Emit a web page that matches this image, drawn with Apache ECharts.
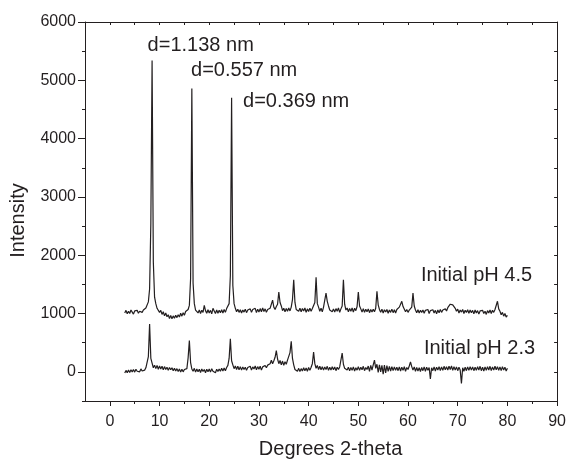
<!DOCTYPE html>
<html><head><meta charset="utf-8">
<script src="https://cdn.jsdelivr.net/npm/echarts@6/dist/echarts.min.js"></script>
<style>html,body{margin:0;padding:0;background:#fff}#c{width:569px;height:464px}</style>
</head><body><div id="c"></div>
<script>
// 2-theta grid: 3.00 .. 80.00 deg, 0.25 deg step
const twoThetaStart = 3;
const twoThetaStep = 0.25;
// Initial pH 4.5 pattern (raw intensity, plotted with +1000 offset)
const offsetPH45 = 1000;
const intensityPH45 = [
 10,55,-5,40,0,60,25,-10,45,15,55,5,40,70,20,60,35,95,110,200,
 420,1550,4340,880,280,170,90,60,20,55,-15,30,-40,10,-55,-20,-85,-35,-90,-40,
 -80,-30,-70,-20,-60,5,-45,15,-30,35,10,70,140,600,3860,520,170,60,90,10,
 60,0,55,20,140,50,5,65,10,55,-5,90,45,0,60,5,55,15,65,10,
 70,20,85,100,170,650,3700,480,170,90,30,75,20,65,10,60,25,75,15,60,
 30,80,20,70,40,90,15,75,25,85,30,95,35,80,20,70,45,90,110,230,
 110,70,120,160,370,190,130,50,90,30,85,40,95,45,110,240,580,190,70,100,
 40,90,30,85,45,95,20,80,35,90,40,85,100,190,620,170,110,40,90,30,
 110,230,350,210,130,60,90,30,80,25,85,40,95,20,80,130,580,160,60,95,
 30,85,40,95,25,90,50,120,370,130,80,25,85,20,75,30,80,15,70,25,
 75,30,90,380,150,70,20,75,10,65,25,70,5,60,20,75,15,65,10,70,
 90,110,160,210,120,90,30,70,20,60,35,110,350,130,60,15,65,10,55,20,
 60,5,55,25,70,0,50,20,65,10,55,-5,60,15,70,20,60,35,80,45,
 100,120,160,185,150,130,90,40,75,10,60,25,70,0,55,20,65,5,60,15,
 55,-5,60,10,50,-10,45,15,55,0,40,-15,50,10,60,0,55,20,70,100,
 210,80,40,-20,20,-45,0,-60,-30
];
// Initial pH 2.3 pattern (raw intensity)
const intensityPH23 = [
 -20,25,-15,30,-10,35,0,40,-5,45,10,35,0,50,15,45,30,70,100,260,
 820,230,150,70,115,55,110,45,100,50,95,35,90,40,80,25,75,35,70,20,
 60,15,55,5,50,-5,45,0,40,10,55,240,535,160,50,10,60,-5,50,0,
 45,-10,50,5,40,-15,45,0,50,-5,55,10,40,-15,45,5,50,10,60,15,
 65,20,75,110,230,565,190,120,55,100,40,95,35,90,30,85,40,80,25,75,
 45,95,30,85,50,100,35,90,45,95,30,85,60,110,70,115,90,140,200,140,
 190,250,365,220,140,195,120,185,110,175,130,200,230,330,525,230,120,40,70,10,
 60,5,55,15,70,20,65,10,75,25,80,140,340,140,60,110,40,95,35,90,
 30,85,40,95,25,80,30,90,35,85,20,80,40,85,110,320,130,60,90,30,
 80,20,75,25,85,15,70,30,90,25,80,35,95,20,75,40,100,10,110,30,
 120,200,60,130,-10,120,0,110,-40,115,-20,105,10,95,15,90,20,85,25,80,
 20,85,15,80,25,90,10,75,40,100,170,90,30,85,10,75,15,70,5,75,
 20,85,10,80,25,75,-120,70,20,85,15,80,30,90,20,85,25,95,35,90,
 30,95,40,100,25,90,30,85,20,80,30,-200,70,10,80,20,85,25,90,30,
 85,20,80,25,90,30,95,20,80,15,85,25,90,30,95,20,85,30,95,35,
 90,25,85,20,90,30,80,15,60
];
const xTicks = [0,10,20,30,40,50,60,70,80,90];
const xMinorTicks = [5,15,25,35,45,55,65,75,85];
const xTopTicks = [0,5,10,15,20,25,30,35,40,45,50,55,60,65,70,75,80,85];
const yTicks = [0,1000,2000,3000,4000,5000,6000];
const yMinorTicks = [-500,500,1500,2500,3500,4500,5500];
const yRightTicks = [0,500,1000,1500,2000,2500,3000,3500,4000,4500,5000,5500];
const peakLabels = ['d=1.138 nm','d=0.557 nm','d=0.369 nm'];
const seriesLabels = ['Initial pH 4.5','Initial pH 2.3'];
const xTitle = 'Degrees 2-theta';
const yTitle = 'Intensity';

const INK = '#231f20';
const FONT = '"Liberation Sans", Arial, Helvetica, sans-serif';

function toPoints(arr, offset) {
  return arr.map((v, i) => [twoThetaStart + i * twoThetaStep, v + offset]);
}

const chart = echarts.init(document.getElementById('c'), null, {renderer: 'canvas'});
const lineAxis = {show: true, onZero: false, lineStyle: {color: INK, width: 1}};
const noLine = {show: false, onZero: false};
const plain = v => String(v);
chart.setOption({
  animation: false,
  backgroundColor: '#fff',
  grid: {left: 85, right: 10, top: 22, bottom: 58, containLabel: false},
  xAxis: [
    {type: 'value', min: -5, max: 90, position: 'bottom',
     axisLine: lineAxis,
     axisTick: {show: true, customValues: xTicks, length: 5, lineStyle: {color: INK}},
     axisLabel: {customValues: xTicks, formatter: plain, color: INK, fontSize: 16, fontFamily: FONT, margin: 13},
     splitLine: {show: false},
     name: xTitle, nameLocation: 'middle', nameGap: 38,
     nameTextStyle: {color: INK, fontSize: 20, fontFamily: FONT, padding: [0, 0, 0, 19]}},
    {type: 'value', min: -5, max: 90, position: 'bottom',
     axisLine: noLine,
     axisTick: {show: true, customValues: xMinorTicks, length: 3, lineStyle: {color: INK}},
     axisLabel: {show: false}, splitLine: {show: false}},
    {type: 'value', min: -5, max: 90, position: 'top',
     axisLine: lineAxis,
     axisTick: {show: true, inside: true, customValues: xTopTicks, length: 3, lineStyle: {color: INK}},
     axisLabel: {show: false}, splitLine: {show: false}}
  ],
  yAxis: [
    {type: 'value', min: -500, max: 6000, position: 'left',
     axisLine: lineAxis,
     axisTick: {show: true, customValues: yTicks, length: 7, lineStyle: {color: INK}},
     axisLabel: {customValues: yTicks, formatter: plain, color: INK, fontSize: 16, fontFamily: FONT, margin: 9},
     splitLine: {show: false},
     name: yTitle, nameLocation: 'middle', nameGap: 57, nameRotate: 90,
     nameTextStyle: {color: INK, fontSize: 20, fontFamily: FONT, padding: [0, 18, 0, 0]}},
    {type: 'value', min: -500, max: 6000, position: 'left',
     axisLine: noLine,
     axisTick: {show: true, customValues: yMinorTicks, length: 3, lineStyle: {color: INK}},
     axisLabel: {show: false}, splitLine: {show: false}},
    {type: 'value', min: -500, max: 6000, position: 'right',
     axisLine: lineAxis,
     axisTick: {show: true, inside: true, customValues: yRightTicks, length: 3, lineStyle: {color: INK}},
     axisLabel: {show: false}, splitLine: {show: false}}
  ],
  series: [
    {name: seriesLabels[0], type: 'line', xAxisIndex: 0, yAxisIndex: 0,
     data: toPoints(intensityPH45, offsetPH45), showSymbol: false, silent: true,
     lineStyle: {color: INK, width: 1.2}},
    {name: seriesLabels[1], type: 'line', xAxisIndex: 0, yAxisIndex: 0,
     data: toPoints(intensityPH23, 0), showSymbol: false, silent: true,
     lineStyle: {color: INK, width: 1.2}}
  ]
});

// text annotations anchored to data coordinates (left edge, vertical middle)
const annotations = [
  {text: peakLabels[0], at: [7.6, 5594]},
  {text: peakLabels[1], at: [16.34, 5171]},
  {text: peakLabels[2], at: [26.8, 4630]},
  {text: seriesLabels[0], at: [62.6, 1658]},
  {text: seriesLabels[1], at: [63.2, 401]}
];
const graphics = annotations.map(a => {
  const p = chart.convertToPixel({xAxisIndex: 0, yAxisIndex: 0}, a.at);
  return {type: 'text', x: p[0], y: p[1], silent: true,
    style: {text: a.text, fill: INK, font: '20px ' + FONT, textAlign: 'left', textVerticalAlign: 'middle'}};
});
chart.setOption({graphic: graphics});
</script>
</body></html>
